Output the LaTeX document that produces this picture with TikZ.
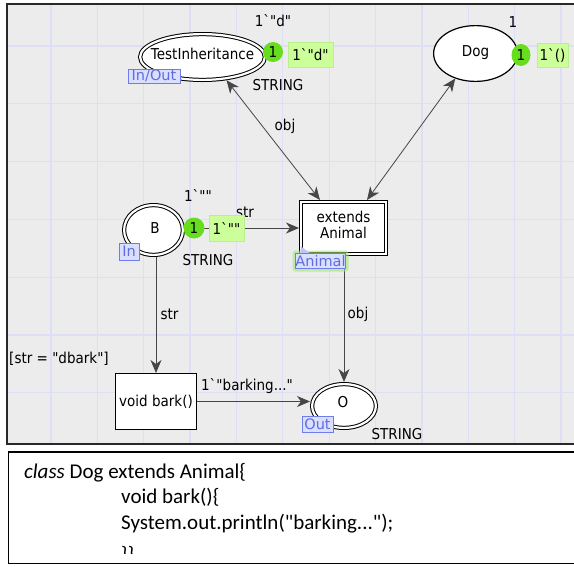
\documentclass[tikz,border=0pt]{standalone}
\usepackage{fontspec}
\setmainfont{DejaVu Sans}[FakeStretch=0.9,Ligatures=TeXOff]
\newfontfamily\tagfont{DejaVu Sans}[Ligatures=TeXOff]
\newfontfamily\codefont{Carlito}[Ligatures=TeXOff]
\usetikzlibrary{arrows.meta,shapes.geometric}
\definecolor{bgc}{RGB}{236,236,236}
\definecolor{gridc}{RGB}{222,222,246}
\definecolor{framec}{RGB}{40,40,40}
\definecolor{tokc}{RGB}{102,222,30}
\definecolor{markc}{RGB}{204,255,153}
\definecolor{markd}{RGB}{185,240,140}
\definecolor{tagf}{RGB}{218,222,255}
\definecolor{tagd}{RGB}{110,125,235}
\definecolor{tagt}{RGB}{95,110,220}
\definecolor{glowc}{RGB}{160,235,110}
\definecolor{arcc}{RGB}{70,70,70}
\newcommand\cpnbq{\symbol{96}}
\newcommand\cpndq{\symbol{34}}
\begin{document}
\begin{tikzpicture}[x=1pt,y=-1pt,
  font=\fontsize{15}{16}\selectfont,
  >={Stealth[length=13pt,width=11pt,inset=4pt]},
  dblell/.style={ellipse, draw, line width=1pt, double=white, double distance=2.2pt, fill=white, inner sep=0pt, outer sep=2.1pt},
  dblrect/.style={rectangle, draw, line width=1pt, double=white, double distance=2.2pt, fill=white, inner sep=0pt, outer sep=2.1pt},
  sgl/.style={draw, line width=1.2pt, fill=white, inner sep=0pt, outer sep=0.6pt},
  arc/.style={draw=arcc, line width=0.8pt},
  token/.style={ellipse, fill=tokc, inner sep=0pt, minimum width=20pt, minimum height=20pt},
  markbox/.style={rectangle, fill=markc, draw=markd, line width=0.6pt, inner sep=0pt},
  tag/.style={rectangle, draw=tagd, fill=tagf, text=tagt, line width=0.8pt, inner sep=0pt, font=\tagfont\fontsize{14.5}{15}\selectfont},
  codetxt/.style={anchor=base west, inner sep=0pt, font=\codefont\fontsize{21}{25}\selectfont}
]
\useasboundingbox (0,0) rectangle (574,566);
\clip (0,0) rectangle (574,566);
% top panel
\fill[bgc] (7,4) rectangle (590,444);
\begin{scope}
  \clip (7,4) rectangle (590,444);
  \foreach \i in {0,...,11} \draw[gridc, line width=1.3pt] ({51+46.36*\i},4) -- ({51+46.36*\i},444);
  \foreach \j in {0,...,6} \draw[gridc, line width=1.3pt] (7,{46+57.8*\j}) -- (590,{46+57.8*\j});
\end{scope}
\draw[framec, line width=2pt] (7,4) rectangle (590,444);
% bottom panel
\draw[black, line width=1.6pt] (8.5,452) rectangle (590,563.5);

% places and transitions
\node[dblell, minimum width=124.8pt, minimum height=45.8pt] (ti) at (202.5,57) {};
\node (tit) at (202.5,54) {TestInheritance};
\node[sgl, ellipse, minimum width=83.8pt, minimum height=55.8pt] (dog) at (475.5,53.5) {};
\node (dogt) at (475.5,53) {Dog};
\node[dblell, minimum width=58.8pt, minimum height=49.8pt] (b) at (153.5,230) {};
\node (bt) at (155,228) {B};
\node[dblell, minimum width=63.8pt, minimum height=43.8pt] (o) at (344,406) {};
\node (ot) at (343,402) {O};
\node[dblrect, minimum width=84.8pt, minimum height=51.8pt] (ext) at (343.5,228) {};
\node[align=center] (extt) at (343.5,225) {extends\\Animal};
\node[sgl, rectangle, minimum width=80.8pt, minimum height=55.8pt] (bark) at (156,401.5) {void bark()};

% arcs
\draw[arc,<->] (ti.-44) -- ([xshift=-23.5pt]ext.north);
\draw[arc,<->] (dog.-129) -- ([xshift=23.5pt]ext.north);
\draw[arc,->] ([yshift=2pt]b.east) -- ([yshift=2pt]b.east -| ext.west);
\draw[arc,->] (bark.north |- b.south) -- (bark.north);
\draw[arc,->] (o.north |- ext.south) -- (o.north);
\draw[arc,->] (bark.east) -- (bark.east -| o.west);

% inscriptions
\node (l1) at (285,126) {obj};
\node (l2) at (358,314) {obj};
\node (l3) at (169.5,314) {str};
\node (l4) at (245,212) {str};
\node (l5) at (247,386) {1\cpnbq\cpndq barking...\cpndq};
\node (l6) at (59,359) {[str = \cpndq dbark\cpndq]};
\node (l7) at (273,21) {1\cpnbq\cpndq d\cpndq};
\node (l8) at (513,22) {1};
\node (l9) at (198,195) {1\cpnbq\cpndq\cpndq};
\node (s1) at (278,85) {STRING};
\node (s2) at (208,260) {STRING};
\node (s3) at (397,434) {STRING};

% tokens and markings
\node[token] (tk1) at (273,52) {1};
\node[token, minimum width=19pt, minimum height=22pt] (tk2) at (521,55) {1};
\node[token, minimum width=21pt, minimum height=21pt] (tk3) at (194,228) {1};
\node[markbox, minimum width=45pt, minimum height=25pt] (m1) at (310.5,54.5) {1\cpnbq\cpndq d\cpndq};
\node[markbox, minimum width=31pt, minimum height=24pt] (m2) at (552.5,55) {1\cpnbq()};
\node[markbox, minimum width=35pt, minimum height=26pt] (m3) at (226.5,228) {1\cpnbq\cpndq\cpndq};

% port tags
\node[tag, minimum width=52pt, minimum height=14pt] (tg1) at (154,76) {In/Out};
\node[tag, minimum width=20pt, minimum height=17pt] (tg2) at (129,251.5) {In};
\node[tag, minimum width=31pt, minimum height=16pt] (tg3) at (317.5,424) {Out};
\fill[glowc, opacity=0.6, rounded corners=3pt] (292.5,250.5) rectangle (348.5,271.5);
\fill[tagd!45] (300.5,246) -- (300.5,254) -- (311,254) -- cycle;
\node[tag, minimum width=50pt, minimum height=15pt] (tg4) at (320.5,261) {Animal};

% code text
\begin{scope}
  \clip (9,453) rectangle (590,553);
  \node[codetxt] (c1) at (24,478) {\textit{class} Dog extends Animal\{};
  \node[codetxt] (c2) at (121,503.5) {void bark()\{};
  \node[codetxt] (c3) at (121,529) {System.out.println(\cpndq barking...\cpndq);};
  \node[codetxt] (c4) at (121,561) {\}\}};
\end{scope}
\end{tikzpicture}
\end{document}
